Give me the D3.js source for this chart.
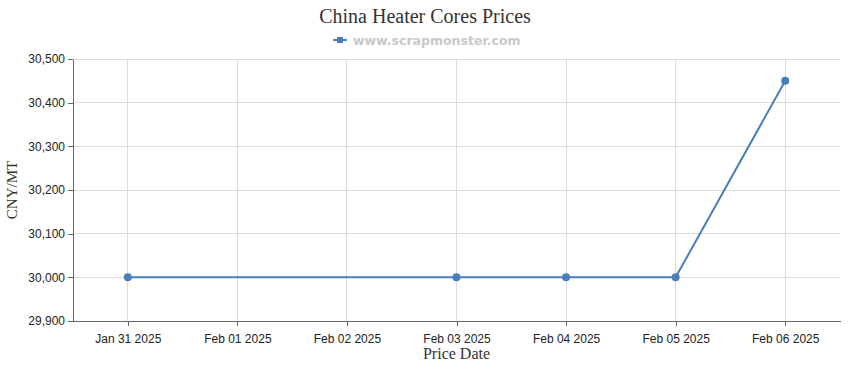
<!DOCTYPE html>
<html>
<head>
<meta charset="utf-8">
<script src="https://cdn.jsdelivr.net/npm/d3@7"></script>
<style>
  body { margin: 0; background: #fff; }
  svg { display: block; }
</style>
</head>
<body>
<svg id="chart" width="850" height="370"></svg>
<script>
// data
const dates = ['2025-01-31', '2025-02-03', '2025-02-04', '2025-02-05', '2025-02-06'];
const prices = [30000, 30000, 30000, 30000, 30450];
const yTicks = [29900, 30000, 30100, 30200, 30300, 30400, 30500];

const parse = d3.utcParse('%Y-%m-%d');
const points = dates.map((d, i) => ({ date: parse(d), value: prices[i] }));

const svg = d3.select('#chart');
const margin = { top: 59, right: 10, bottom: 49, left: 73 };
const width = 850 - margin.left - margin.right;
const height = 370 - margin.top - margin.bottom;

const halfDay = 12 * 3600 * 1000;
const x = d3.scaleUtc()
  .domain([+points[0].date - halfDay, +points[points.length - 1].date + halfDay])
  .range([0, width]);
const y = d3.scaleLinear().domain([29900, 30500]).range([height, 0]);

const g = svg.append('g').attr('transform', `translate(${margin.left},${margin.top})`);

const xTicks = d3.utcDay.range(points[0].date, +points[points.length - 1].date + 1);

// grid
g.append('g').selectAll('line').data(xTicks).join('line')
  .attr('x1', d => x(d)).attr('x2', d => x(d))
  .attr('y1', 0).attr('y2', height)
  .attr('stroke', '#dcdcdc').attr('stroke-width', 1)
  .attr('shape-rendering', 'crispEdges');
g.append('g').selectAll('line').data(yTicks).join('line')
  .attr('x1', 0).attr('x2', width)
  .attr('y1', d => y(d)).attr('y2', d => y(d))
  .attr('stroke', '#dcdcdc').attr('stroke-width', 1)
  .attr('shape-rendering', 'crispEdges');

// axes
const xAxis = g.append('g')
  .attr('transform', `translate(0,${height})`)
  .call(d3.axisBottom(x).tickValues(xTicks).tickSize(5).tickSizeOuter(0)
    .tickFormat(d3.utcFormat('%b %d %Y')));
const yAxis = g.append('g')
  .call(d3.axisLeft(y).tickValues(yTicks).tickSize(5).tickSizeOuter(0)
    .tickFormat(d3.format(',')));

[xAxis, yAxis].forEach(a => {
  a.selectAll('path, line').attr('stroke', '#666').attr('shape-rendering', 'crispEdges');
  a.selectAll('text').attr('fill', '#222')
    .style('font-family', 'Arial, "Liberation Sans", sans-serif').style('font-size', '12px');
});
xAxis.selectAll('text').attr('dy', '1.2em');

// line + points
const lineColor = '#4a7ebb';
g.append('path')
  .datum(points)
  .attr('d', d3.line().x(d => x(d.date)).y(d => y(d.value)))
  .attr('fill', 'none')
  .attr('stroke', lineColor)
  .attr('stroke-width', 2);
g.append('g').selectAll('circle').data(points).join('circle')
  .attr('cx', d => x(d.date)).attr('cy', d => y(d.value))
  .attr('r', 4).attr('fill', lineColor);

// title
svg.append('text')
  .attr('x', 425).attr('y', 23)
  .attr('text-anchor', 'middle')
  .style('font-family', '"Times New Roman", "Liberation Serif", serif')
  .style('font-size', '20px').attr('fill', '#333')
  .text('China Heater Cores Prices');

// legend
const lg = svg.append('g').attr('transform', 'translate(333,40)');
lg.append('line').attr('x1', 0).attr('x2', 14).attr('y1', 0).attr('y2', 0)
  .attr('stroke', lineColor).attr('stroke-width', 2);
lg.append('rect').attr('x', 4).attr('y', -3).attr('width', 6).attr('height', 6).attr('fill', lineColor);
lg.append('text').attr('x', 20).attr('y', 4.5)
  .style('font-family', 'Verdana, "DejaVu Sans", sans-serif')
  .style('font-size', '12.5px').style('font-weight', 'bold')
  .attr('fill', '#c8c8c8')
  .text('www.scrapmonster.com');

// axis titles
svg.append('text')
  .attr('x', margin.left + width / 2).attr('y', 359)
  .attr('text-anchor', 'middle')
  .style('font-family', '"Times New Roman", "Liberation Serif", serif')
  .style('font-size', '16px').attr('fill', '#333')
  .text('Price Date');
svg.append('text')
  .attr('transform', `translate(17,${margin.top + height / 2}) rotate(-90)`)
  .attr('text-anchor', 'middle')
  .style('font-family', '"Times New Roman", "Liberation Serif", serif')
  .style('font-size', '15px').attr('fill', '#333')
  .text('CNY/MT');
</script>
</body>
</html>
